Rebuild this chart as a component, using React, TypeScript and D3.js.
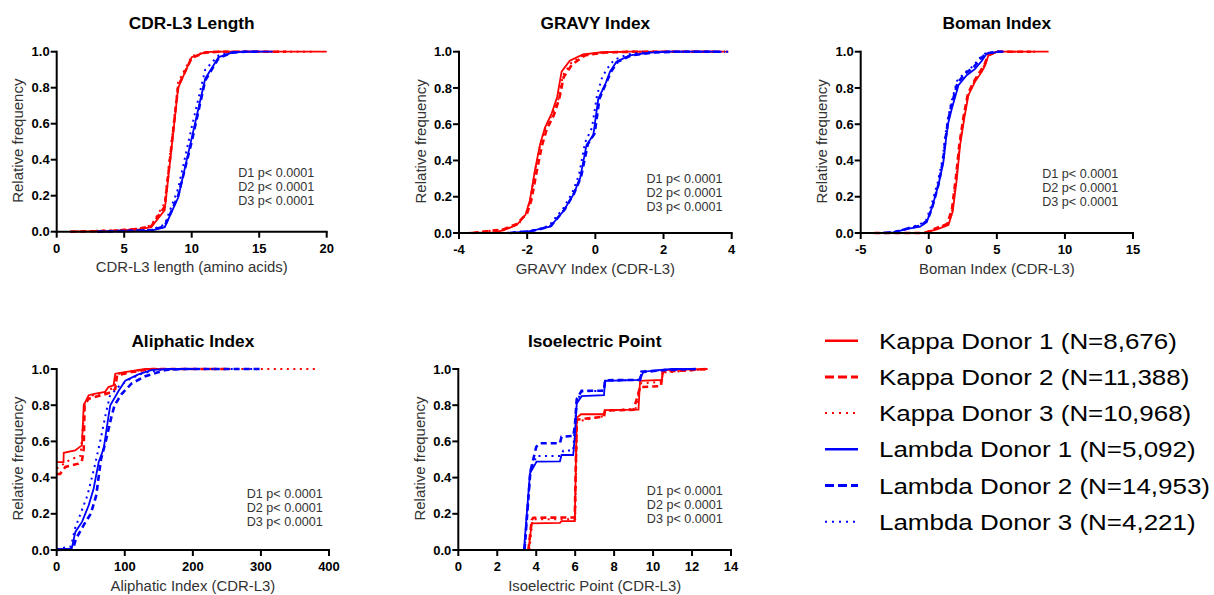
import React from "react";
import * as d3 from "d3";

type Pt = [number, number];

// ---------- Series names ----------
const seriesNames = [
  "Kappa Donor 1 (N=8,676)",
  "Kappa Donor 2 (N=11,388)",
  "Kappa Donor 3 (N=10,968)",
  "Lambda Donor 1 (N=5,092)",
  "Lambda Donor 2 (N=14,953)",
  "Lambda Donor 3 (N=4,221)",
];

// ---------- CDR-L3 Length ----------
const lenK1: Pt[] = [[1,0],[4,0.003],[5,0.008],[6,0.012],[7,0.025],[8,0.12],[9,0.8],[10,0.97],[11,0.998],[12,1],[20,1]];
const lenK2: Pt[] = [[1,0],[4,0.004],[5,0.01],[6,0.015],[7,0.03],[8,0.14],[9,0.81],[10,0.965],[11,0.995],[12,1],[17,1]];
const lenK3: Pt[] = [[1,0],[5,0.01],[6,0.016],[7,0.035],[8,0.16],[9,0.83],[10,0.975],[11,0.998],[12,1],[19,1]];
const lenL1: Pt[] = [[3,0],[6,0.003],[7,0.006],[8,0.025],[9,0.19],[10,0.52],[11,0.85],[12,0.97],[13,0.995],[14,1],[16,1]];
const lenL2: Pt[] = [[3,0],[7,0.008],[8,0.03],[9,0.2],[10,0.5],[11,0.84],[12,0.965],[13,0.995],[14,1],[15,1]];
const lenL3: Pt[] = [[3,0],[7,0.01],[8,0.04],[9,0.24],[10,0.58],[11,0.9],[12,0.98],[13,0.998],[14,1],[15,1]];

// ---------- GRAVY Index ----------
const gravK1: Pt[] = [[-3.8,0],[-3,0.003],[-2.7,0.015],[-2.3,0.045],[-2.05,0.1],[-1.92,0.18],[-1.77,0.35],[-1.62,0.49],[-1.48,0.58],[-1.28,0.66],[-1.12,0.75],[-0.99,0.89],[-0.75,0.95],[-0.36,0.985],[0.2,0.997],[1,1],[3.9,1]];
const gravK2: Pt[] = [[-3.6,0],[-2.7,0.02],[-2.3,0.05],[-2.0,0.11],[-1.88,0.18],[-1.72,0.34],[-1.57,0.48],[-1.43,0.57],[-1.22,0.65],[-1.06,0.74],[-0.93,0.86],[-0.68,0.93],[-0.3,0.98],[0.3,0.996],[1.2,1],[3.5,1]];
const gravK3: Pt[] = [[-3.7,0],[-2.65,0.02],[-2.25,0.05],[-2.02,0.11],[-1.9,0.19],[-1.75,0.36],[-1.6,0.5],[-1.45,0.59],[-1.25,0.66],[-1.08,0.74],[-0.95,0.87],[-0.7,0.94],[-0.33,0.982],[0.25,0.997],[1.1,1],[3.7,1]];
const gravL1: Pt[] = [[-2.6,0],[-2.0,0.008],[-1.72,0.018],[-1.33,0.035],[-1.12,0.08],[-0.94,0.12],[-0.65,0.21],[-0.45,0.3],[-0.26,0.485],[-0.06,0.54],[0.085,0.74],[0.28,0.815],[0.43,0.89],[0.62,0.945],[1.01,0.98],[1.6,0.995],[2.2,1],[3.6,1]];
const gravL2: Pt[] = [[-2.5,0],[-1.9,0.01],[-1.65,0.02],[-1.3,0.04],[-1.1,0.085],[-0.9,0.13],[-0.62,0.22],[-0.42,0.31],[-0.22,0.49],[-0.02,0.55],[0.12,0.74],[0.3,0.82],[0.46,0.89],[0.66,0.945],[1.05,0.98],[1.7,0.995],[2.3,1],[3.8,1]];
const gravL3: Pt[] = [[-2.6,0],[-2.0,0.01],[-1.7,0.02],[-1.35,0.04],[-1.15,0.09],[-0.96,0.13],[-0.68,0.22],[-0.48,0.32],[-0.3,0.5],[-0.1,0.58],[0.05,0.76],[0.2,0.86],[0.36,0.91],[0.55,0.955],[0.95,0.985],[1.5,0.997],[2.1,1],[4.0,1]];

// ---------- Boman Index ----------
const bomK1: Pt[] = [[-4.5,0],[-0.4,0],[0.59,0.02],[1.44,0.044],[1.76,0.118],[2.06,0.3],[2.3,0.485],[2.6,0.63],[2.91,0.76],[3.4,0.835],[3.9,0.89],[4.14,0.925],[4.38,0.98],[5.0,1],[8.8,1]];
const bomK2: Pt[] = [[-4.0,0],[-0.3,0],[0.5,0.025],[1.35,0.05],[1.7,0.13],[2.0,0.31],[2.25,0.49],[2.55,0.64],[2.88,0.77],[3.35,0.84],[3.85,0.9],[4.1,0.93],[4.35,0.98],[5.1,1],[7.5,1]];
const bomK3: Pt[] = [[-4.2,0],[-0.35,0],[0.55,0.022],[1.4,0.05],[1.72,0.125],[2.02,0.3],[2.27,0.48],[2.58,0.63],[2.9,0.76],[3.38,0.84],[3.88,0.895],[4.12,0.93],[4.36,0.98],[5.0,1],[8.0,1]];
const bomL1: Pt[] = [[-3.5,0],[-2.6,0.003],[-1.37,0.026],[-0.64,0.035],[-0.15,0.06],[0.22,0.136],[0.71,0.265],[1.07,0.39],[1.27,0.52],[1.44,0.61],[1.69,0.685],[2.18,0.815],[2.79,0.87],[3.4,0.905],[3.9,0.95],[4.26,0.99],[5.24,1],[5.5,1]];
const bomL2: Pt[] = [[-3.3,0],[-2.5,0.005],[-1.3,0.03],[-0.6,0.04],[-0.1,0.07],[0.25,0.14],[0.72,0.27],[1.05,0.4],[1.25,0.53],[1.42,0.62],[1.65,0.7],[2.12,0.83],[2.7,0.88],[3.3,0.915],[3.8,0.96],[4.2,0.99],[5.1,1],[5.4,1]];
const bomL3: Pt[] = [[-3.4,0],[-2.5,0.006],[-1.4,0.03],[-0.7,0.045],[-0.2,0.07],[0.18,0.15],[0.66,0.28],[1.02,0.41],[1.22,0.54],[1.4,0.63],[1.62,0.71],[2.08,0.84],[2.65,0.885],[3.25,0.92],[3.75,0.965],[4.15,0.99],[5.0,1],[5.3,1]];

// ---------- Aliphatic Index ----------
const aliK1: Pt[] = [[0,0.486],[10,0.486],[10.3,0.537],[27,0.55],[37,0.578],[39.7,0.8],[41,0.81],[47,0.855],[57,0.864],[71,0.873],[76,0.9],[83.5,0.91],[86,0.974],[100,0.983],[130,1],[200,1]];
const aliK2: Pt[] = [[0,0.42],[5,0.42],[12.7,0.459],[32,0.477],[37,0.49],[39.7,0.56],[41,0.8],[47,0.836],[66,0.855],[81,0.873],[86,0.89],[88.6,0.965],[110,0.983],[140,1],[250,1]];
const aliK3: Pt[] = [[0,0.45],[8,0.47],[20,0.5],[35,0.52],[39,0.7],[41,0.81],[48,0.85],[70,0.87],[85,0.9],[88,0.97],[105,0.985],[140,1],[385,1]];
const aliL1: Pt[] = [[0,0.005],[20,0.008],[22.5,0.015],[27.4,0.1],[37.2,0.155],[47,0.247],[54.3,0.34],[61.7,0.486],[69,0.56],[76.3,0.744],[78.7,0.8],[91,0.88],[100.7,0.935],[120,0.97],[140,0.995],[165,1],[200,1]];
const aliL2: Pt[] = [[0,0],[24,0.005],[28,0.06],[40,0.14],[50,0.2],[58,0.3],[65,0.5],[72,0.6],[80,0.73],[85,0.8],[95,0.86],[110,0.92],[130,0.96],[160,0.995],[190,1],[300,1]];
const aliL3: Pt[] = [[0,0.005],[21,0.02],[27,0.12],[35,0.2],[45,0.3],[55,0.45],[65,0.62],[72,0.75],[78,0.85],[90,0.9],[105,0.94],[125,0.975],[150,0.995],[180,1],[290,1]];

// ---------- Isoelectric Point ----------
const piK1: Pt[] = [[3.6,0],[3.77,0.147],[5.22,0.15],[5.3,0.16],[5.98,0.16],[6.08,0.73],[6.3,0.75],[7.48,0.75],[7.53,0.773],[9.25,0.775],[9.33,0.934],[10.45,0.94],[10.5,0.994],[12.8,1]];
const piK2: Pt[] = [[3.6,0],[3.77,0.166],[3.85,0.178],[5.98,0.18],[6.08,0.72],[7.48,0.737],[7.53,0.77],[9.0,0.775],[9.15,0.83],[9.33,0.9],[10.4,0.905],[10.5,0.985],[12.8,1]];
const piK3: Pt[] = [[3.65,0],[3.8,0.16],[3.85,0.17],[6.0,0.17],[6.1,0.71],[7.48,0.74],[7.53,0.77],[9.1,0.78],[9.3,0.88],[9.35,0.92],[10.45,0.93],[10.5,0.98],[12.8,1]];
const piL1: Pt[] = [[3.37,0],[3.68,0.424],[4.02,0.488],[5.22,0.49],[5.3,0.525],[5.9,0.525],[5.98,0.626],[6.08,0.81],[6.33,0.85],[7.48,0.855],[7.53,0.934],[9.33,0.94],[9.5,0.985],[10.4,0.995],[11,1],[12,1]];
const piL2: Pt[] = [[3.4,0],[3.7,0.433],[4.0,0.57],[4.2,0.59],[5.22,0.59],[5.3,0.626],[5.9,0.63],[5.98,0.68],[6.08,0.833],[6.33,0.88],[7.48,0.88],[7.53,0.938],[9.33,0.94],[9.4,0.985],[10.8,0.995],[12.2,1]];
const piL3: Pt[] = [[3.4,0],[3.7,0.44],[4.02,0.52],[5.22,0.52],[5.4,0.55],[5.9,0.55],[5.98,0.68],[6.08,0.82],[6.33,0.875],[7.48,0.88],[7.53,0.935],[9.33,0.94],[9.4,0.98],[10.5,0.995],[11.5,1]];

// ---------- Axis ticks & labels ----------
const yTicks = [0, 0.2, 0.4, 0.6, 0.8, 1.0];
const lenTicks = [0, 5, 10, 15, 20];
const gravTicks = [-4, -2, 0, 2, 4];
const bomTicks = [-5, 0, 5, 10, 15];
const aliTicks = [0, 100, 200, 300, 400];
const piTicks = [0, 2, 4, 6, 8, 10, 12, 14];
const pLabels = ["D1 p< 0.0001", "D2 p< 0.0001", "D3 p< 0.0001"];

// ---------- Styles ----------
const RED = "#ff0000";
const BLUE = "#0000ff";
const colors = [RED, RED, RED, BLUE, BLUE, BLUE];
const dashes = ["", "6,4", "2,4.5", "", "6,4", "2,4.5"];
const widths = [1.8, 2.6, 2, 1.8, 2.6, 2];
const FONT = "'Liberation Sans', Arial, Helvetica, sans-serif";

type Panel = {
  title: string;
  xlabel: string;
  ticks: number[];
  series: Pt[][];
  box: { x0: number; x1: number; y0: number; y1: number };
  ann: { dx: number; dy: number };
};

const panels: Panel[] = [
  { title: "CDR-L3 Length", xlabel: "CDR-L3 length (amino acids)", ticks: lenTicks,
    series: [lenK1, lenK2, lenK3, lenL1, lenL2, lenL3],
    box: { x0: 56.7, x1: 326.7, y0: 51.7, y1: 231.7 }, ann: { dx: 181.5, dy: 125.5 } },
  { title: "GRAVY Index", xlabel: "GRAVY Index (CDR-L3)", ticks: gravTicks,
    series: [gravK1, gravK2, gravK3, gravL1, gravL2, gravL3],
    box: { x0: 459, x1: 731.7, y0: 51.7, y1: 233 }, ann: { dx: 187.5, dy: 131 } },
  { title: "Boman Index", xlabel: "Boman Index (CDR-L3)", ticks: bomTicks,
    series: [bomK1, bomK2, bomK3, bomL1, bomL2, bomL3],
    box: { x0: 860.7, x1: 1133, y0: 51.7, y1: 233 }, ann: { dx: 181.5, dy: 126.5 } },
  { title: "Aliphatic Index", xlabel: "Aliphatic Index (CDR-L3)", ticks: aliTicks,
    series: [aliK1, aliK2, aliK3, aliL1, aliL2, aliL3],
    box: { x0: 56.7, x1: 329, y0: 369, y1: 550 }, ann: { dx: 190, dy: 129 } },
  { title: "Isoelectric Point", xlabel: "Isoelectric Point (CDR-L3)", ticks: piTicks,
    series: [piK1, piK2, piK3, piL1, piL2, piL3],
    box: { x0: 458.3, x1: 731, y0: 369, y1: 550 }, ann: { dx: 188.5, dy: 125.5 } },
];

function PanelView({ p }: { p: Panel }) {
  const { x0, x1, y0, y1 } = p.box;
  const x = d3.scaleLinear().domain([p.ticks[0], p.ticks[p.ticks.length - 1]]).range([x0, x1]);
  const y = d3.scaleLinear().domain([0, 1]).range([y1, y0]);
  const line = d3.line<Pt>().x((d) => x(d[0])).y((d) => y(d[1]));
  const fmt = d3.format(".1f");
  const order = [0, 1, 2, 3, 4, 5];
  return (
    <g>
      <text x={(x0 + x1) / 2} y={y0 - 22.5} textAnchor="middle" fontFamily={FONT} fontWeight="bold" fontSize={17.3} fill="#000">
        {p.title}
      </text>
      {order.map((i) => (
        <path key={i} d={line(p.series[i]) || ""} fill="none" stroke={colors[i]} strokeWidth={widths[i]}
          strokeDasharray={dashes[i] || undefined} />
      ))}
      {/* axes */}
      <line x1={x0} x2={x1 + 1} y1={y1} y2={y1} stroke="#000" strokeWidth={2} />
      <line x1={x0} x2={x0} y1={y0 - 1} y2={y1 + 1} stroke="#000" strokeWidth={2} />
      {p.ticks.map((t) => (
        <g key={"x" + t}>
          <line x1={x(t)} x2={x(t)} y1={y1} y2={y1 + 6} stroke="#000" strokeWidth={2} />
          <text x={x(t)} y={y1 + 21} textAnchor="middle" fontFamily={FONT} fontWeight="bold" fontSize={13} fill="#000">
            {t}
          </text>
        </g>
      ))}
      {yTicks.map((t) => (
        <g key={"y" + t}>
          <line x1={x0 - 6} x2={x0} y1={y(t)} y2={y(t)} stroke="#000" strokeWidth={2} />
          <text x={x0 - 7} y={y(t)} dy="0.36em" textAnchor="end" fontFamily={FONT} fontWeight="bold" fontSize={13} fill="#000">
            {fmt(t)}
          </text>
        </g>
      ))}
      <text x={(x0 + x1) / 2} y={y1 + 40.5} textAnchor="middle" fontFamily={FONT} fontSize={14.9} fill="#333">
        {p.xlabel}
      </text>
      <text transform={`translate(${x0 - 33.5},${(y0 + y1) / 2 - 1}) rotate(-90)`} textAnchor="middle" fontFamily={FONT} fontSize={15} fill="#333">
        Relative frequency
      </text>
      {pLabels.map((s, i) => (
        <text key={s} x={x0 + p.ann.dx} y={y0 + p.ann.dy + i * 14} fontFamily={FONT} fontSize={12.6} fill="#333">
          {s}
        </text>
      ))}
    </g>
  );
}

function Legend() {
  const lx0 = 825, lx1 = 858, tx = 879, top = 340.7, step = 36.2;
  return (
    <g>
      {seriesNames.map((name, i) => {
        const cy = top + i * step;
        return (
          <g key={name}>
            <line x1={lx0} x2={lx1} y1={cy} y2={cy} stroke={colors[i]}
              strokeWidth={i % 3 === 0 ? 2.4 : i % 3 === 1 ? 3 : 2}
              strokeDasharray={i % 3 === 1 ? "9,4" : i % 3 === 2 ? "2,5" : undefined} />
            <g transform={`translate(${tx},${cy + 8}) scale(1.18,1)`}>
              <text x={0} y={0} fontFamily={FONT} fontSize={22} fill="#000">{name}</text>
            </g>
          </g>
        );
      })}
    </g>
  );
}

export default function App() {
  return (
    <svg width={1214} height={595} style={{ position: "absolute", left: 0, top: 0, background: "#fff" }}>
      <rect x={0} y={0} width={1214} height={595} fill="#fff" />
      {panels.map((p) => (
        <PanelView key={p.title} p={p} />
      ))}
      <Legend />
    </svg>
  );
}
